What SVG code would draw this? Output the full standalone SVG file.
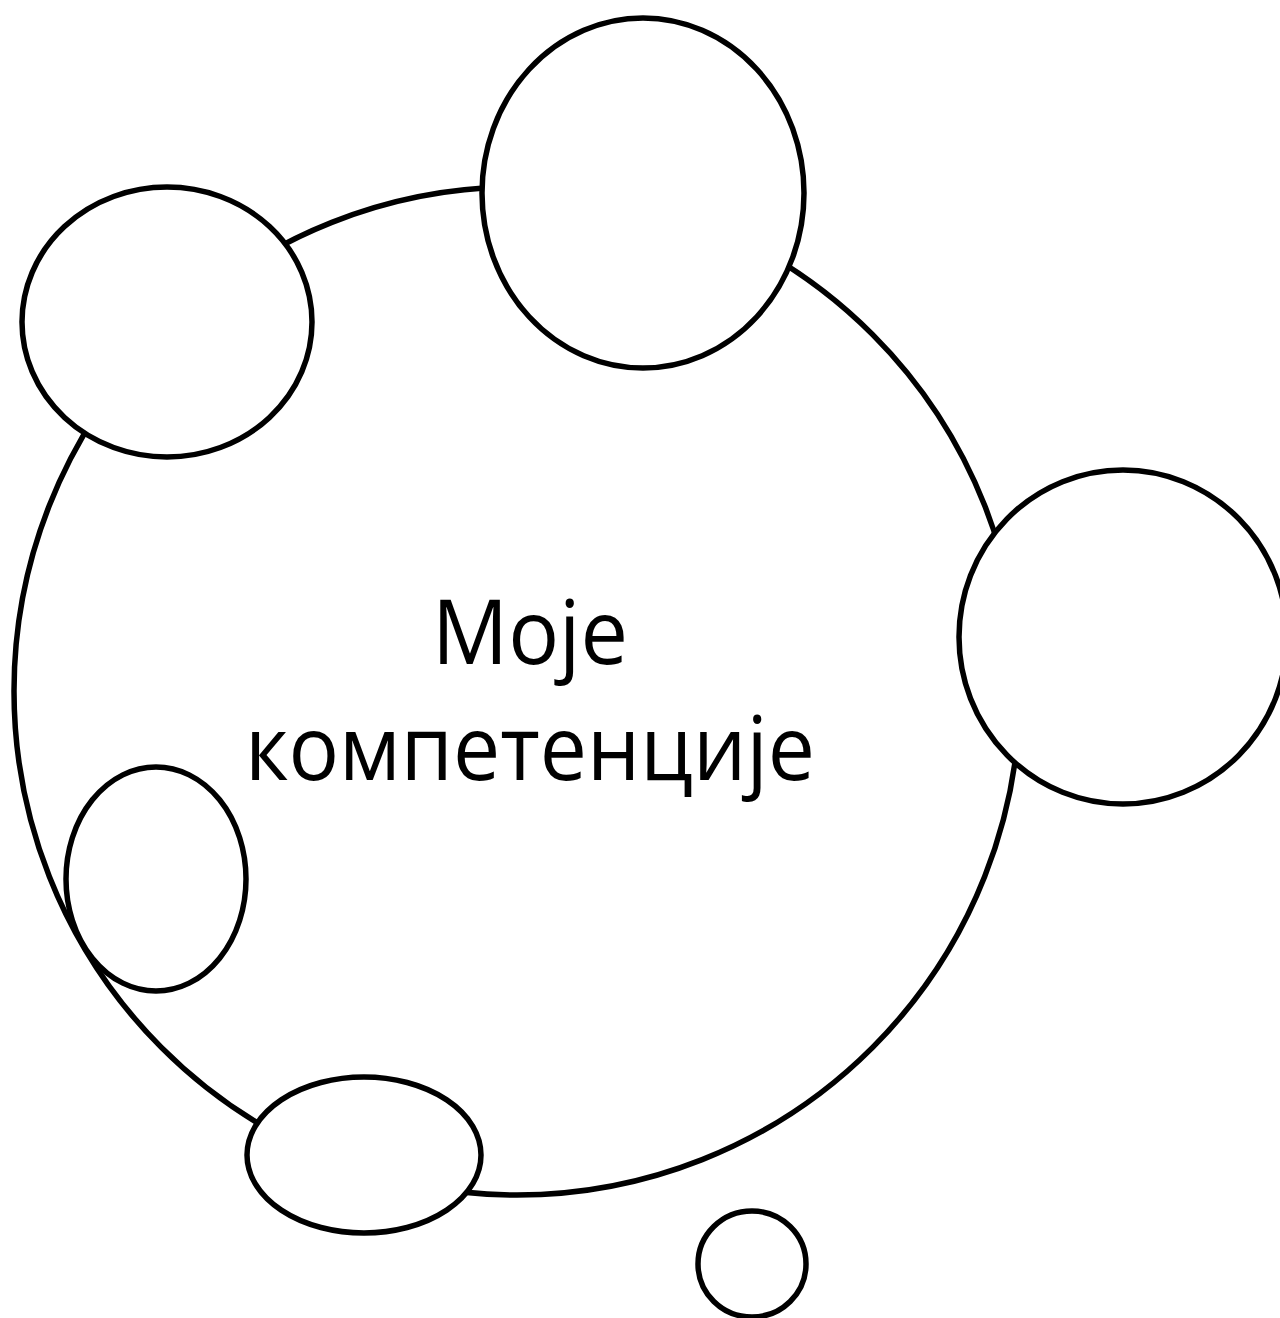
<svg xmlns="http://www.w3.org/2000/svg" width="1280" height="1318" viewBox="0 0 1280 1318">
<style>
.c{fill:#fff;stroke:#000;stroke-width:5.5}
.t{font-family:"Open Sans","Noto Sans",sans-serif;font-size:90px;fill:#000;text-anchor:middle}
</style>
<rect width="1280" height="1318" fill="#fff"/>
<g id="main">
<ellipse class="c" cx="517" cy="691" rx="503" ry="504"/>
<text class="t" x="530" y="664" textLength="196" lengthAdjust="spacingAndGlyphs">Moje</text>
<text class="t" x="530" y="780" textLength="570" lengthAdjust="spacingAndGlyphs">компетенције</text>
</g>
<g id="n1"><ellipse class="c" cx="643" cy="193" rx="161" ry="175"/></g>
<g id="n2"><ellipse class="c" cx="167" cy="322" rx="145" ry="135"/></g>
<g id="n3"><ellipse class="c" cx="1123" cy="637" rx="164" ry="167"/></g>
<g id="n4"><ellipse class="c" cx="156" cy="879" rx="90" ry="112"/></g>
<g id="n5"><ellipse class="c" cx="364" cy="1155" rx="117" ry="78"/></g>
<g id="n6"><ellipse class="c" cx="752" cy="1264" rx="54" ry="53"/></g>
<g id="connectors"></g>
</svg>
